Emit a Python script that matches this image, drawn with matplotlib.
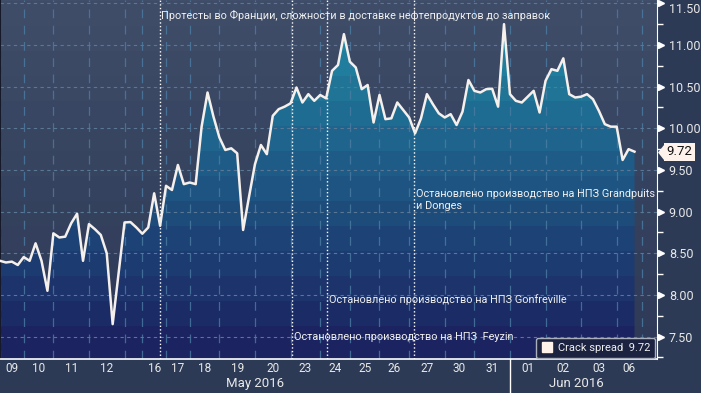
import numpy as np
import matplotlib.pyplot as plt
import matplotlib.transforms as mtransforms
from matplotlib.lines import Line2D

plt.rcParams['font.family'] = ['Roboto', 'DejaVu Sans']

# crack spread, one value per sample (index on the x axis)
crack_spread = [
    8.41, 8.39, 8.40, 8.36, 8.455, 8.41, 8.62, 8.41, 8.05, 8.74,
    8.69, 8.70, 8.86, 8.975, 8.41, 8.85, 8.79, 8.72, 8.50, 7.65,
    8.26, 8.87, 8.875, 8.81, 8.735, 8.81, 9.22, 8.83, 9.31, 9.26,
    9.56, 9.33, 9.35, 9.33, 10.02, 10.43, 10.14, 9.89, 9.74, 9.76,
    9.70, 8.78, 9.18, 9.57, 9.80, 9.69, 10.15, 10.23, 10.26, 10.30,
    10.49, 10.31, 10.41, 10.33, 10.40, 10.36, 10.69, 10.76, 11.13, 10.80,
    10.73, 10.47, 10.52, 10.07, 10.40, 10.11, 10.12, 10.31, 10.22, 10.13,
    9.94, 10.12, 10.41, 10.29, 10.18, 10.13, 10.17, 10.04, 10.20, 10.58,
    10.45, 10.43, 10.47, 10.475, 10.26, 11.25, 10.41, 10.33, 10.31, 10.38,
    10.45, 10.19, 10.57, 10.71, 10.69, 10.84, 10.41, 10.37, 10.38, 10.41,
    10.35, 10.21, 10.05, 10.02, 10.02, 9.62, 9.75, 9.72,
]
last_value = 9.72

# sample index where each trading day starts (last entry = end of axis ticks)
day_starts = [0, 4, 9, 15, 21, 24, 28, 32, 37, 43, 49, 54, 59, 64, 69,
              75, 80, 86, 92, 98, 104, 108.3]
day_labels = ['09', '10', '11', '12', '', '16', '17', '18', '19', '20', '23',
              '24', '25', '26', '27', '30', '31', '01', '02', '03', '06']
months = ['May 2016', 'Jun 2016']
month_split = 86

y_ticks = [7.5, 8.0, 8.5, 9.0, 9.5, 10.0, 10.5, 11.0, 11.5]

events = [26.9, 69.9, 55.2, 49.2]
event_y = [11.35, 9.14, 7.95, 7.495]
event_texts = [
    'Протесты во Франции, сложности в доставке нефтепродуктов до заправок',
    'Остановлено производство на НПЗ Grandpuits\nи Donges',
    'Остановлено производство на НПЗ Gonfreville',
    'Остановлено производство на НПЗ  Feyzin',
]

x = np.arange(len(crack_spread))
x0, x1 = 0.07, 110.8
y0, y1 = 7.228, 11.54

fig = plt.figure(figsize=(7.01, 3.93), dpi=100, facecolor='#2c3a55')
ax = fig.add_axes([0, 33.7 / 393, 657 / 701, 359.3 / 393])


def banded(c_bottom, c_top):
    edges = np.arange(7.62, 11.6, 0.3)
    ys = np.linspace(y0, y1, 600)
    t = np.searchsorted(edges, ys) / len(edges)
    cb = np.array(c_bottom) / 255
    ct = np.array(c_top) / 255
    return (cb + t[:, None] * (ct - cb))[:, None, :]


ax.imshow(banded((46, 58, 87), (64, 78, 106)), extent=(x0, x1, y0, y1),
          origin='lower', aspect='auto', interpolation='nearest', zorder=0)
poly = ax.fill_between(x, crack_spread, y0, facecolor='none', edgecolor='none')
fill_img = ax.imshow(banded((27, 35, 96), (34, 150, 174)), extent=(x0, x1, y0, y1),
                     origin='lower', aspect='auto', interpolation='nearest', zorder=1)
fill_img.set_clip_path(poly.get_paths()[0], ax.transData)

ax.plot(x, crack_spread, color='#f6f0ec', lw=1.8, zorder=4)

for e, ey, txt in zip(events, event_y, event_texts):
    ax.axvline(e, color='white', lw=1, ls=(0, (1, 1.6)), zorder=3)
    ax.text(e + 0.3, ey, txt, color='#f0f0f0', fontsize=7.8, va='center',
            ha='left', zorder=5, linespacing=1.3)

ax.set_xlim(x0, x1)
ax.set_ylim(y0, y1)

# x axis: gridlines at day starts, labels in the middle of each day
centers = [(a + b) / 2 for a, b in zip(day_starts[:-1], day_starts[1:])]
ax.set_xticks(day_starts, labels=[''] * len(day_starts))
ax.set_xticks(centers, labels=day_labels, minor=True)
ax.tick_params(axis='x', which='both', length=0)
ax.tick_params(axis='x', which='minor', pad=2, labelsize=8.5, labelcolor='#e8e8e8')
ax.grid(axis='x', which='major', color='#4b7ca3', lw=0.9, ls=(0, (7, 6)), alpha=0.8)

# y axis on the right
ax.yaxis.tick_right()
ax.set_yticks(y_ticks, labels=[f'{v:.2f}' for v in y_ticks])
ax.set_yticks([v - 0.25 for v in y_ticks], minor=True)
ax.tick_params(axis='y', which='major', length=3, width=1, color='white', pad=5.5,
               labelsize=9, labelcolor='#e8e8e8')
ax.tick_params(axis='y', which='minor', length=4, width=1, color='white')
ax.grid(axis='y', which='major', color='#5a7896', lw=0.8, ls=(0, (3, 3)))
ax.get_yticklabels()[-1].set_verticalalignment('top')

ax.spines['top'].set_visible(False)
ax.spines['left'].set_color('#15192a')
ax.spines['right'].set_color('white')
ax.spines['bottom'].set_color('white')
ax.spines['bottom'].set_linewidth(1.2)

trans_ay = mtransforms.blended_transform_factory(ax.transAxes, ax.transData)
trans_xa = mtransforms.blended_transform_factory(ax.transData, ax.transAxes)

ax.plot([1] * len(y_ticks), y_ticks, ls='none', marker='>', ms=4.5, color='white',
        transform=mtransforms.offset_copy(trans_ay, fig, x=4, units='dots'),
        clip_on=False)

# month separator and month names
ax.plot([month_split, month_split], [0, -0.094], transform=trans_xa,
        color='white', lw=1, clip_on=False)
month_centers = [(x0 + month_split) / 2, (month_split + day_starts[-1]) / 2]
for mc, m in zip(month_centers, months):
    ax.text(mc, -0.0687, m, transform=trans_xa, ha='center', va='center',
            fontsize=9.5, color='#e8e8e8')

# last value tag
tag_color = '#fdf3ec'
ax.plot([1], [last_value], ls='none', marker=[(-0.4, 0), (0.4, 1), (0.4, -1)], ms=12.5,
        color=tag_color, mec='none',
        transform=mtransforms.offset_copy(trans_ay, fig, x=4, units='dots'),
        clip_on=False, zorder=6)
ax.annotate(f'{last_value:.2f}', xy=(1, last_value), xycoords=trans_ay,
            xytext=(9.5, 0), textcoords='offset pixels', ha='left', va='center',
            fontsize=9.5, color='#111111', annotation_clip=False, zorder=6,
            bbox=dict(boxstyle='square,pad=0.2', fc=tag_color, ec='none'))

handle = Line2D([], [], marker='s', ls='none', color='#fff2ea', ms=7.5)
leg = ax.legend([handle], [f'Crack spread  {last_value:.2f}'], loc='lower right',
                bbox_to_anchor=(0.997, 0.003), frameon=True, facecolor='#1b2340',
                edgecolor='#aab0bb', framealpha=1, fontsize=8, labelcolor='#f0f0f0',
                handletextpad=0.5, borderpad=0.45, handlelength=1, borderaxespad=0)
leg.set_zorder(7)

fig.savefig('out.png', dpi=100, facecolor=fig.get_facecolor())
